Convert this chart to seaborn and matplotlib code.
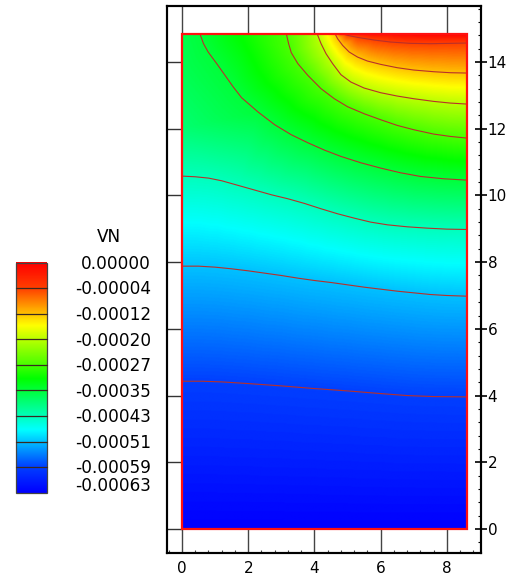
import numpy as np
import pandas as pd
import matplotlib
matplotlib.use("Agg")
import matplotlib.pyplot as plt
import matplotlib.tri as mtri
from matplotlib.colors import LinearSegmentedColormap
from matplotlib.patches import Rectangle
from matplotlib.ticker import MultipleLocator
import seaborn as sns

sns.set_theme(style="white")
plt.rcParams["font.family"] = ["DejaVu Sans"]
plt.rcParams["text.color"] = "black"
plt.rcParams["xtick.color"] = "black"
plt.rcParams["ytick.color"] = "black"

# ---------------- data ----------------
LEVELS = [0.0, -0.00004, -0.00012, -0.00020, -0.00027, -0.00035,
          -0.00043, -0.00051, -0.00059, -0.00063]
LEVEL_LABELS = ["0.00000", "-0.00004", "-0.00012", "-0.00020", "-0.00027",
                "-0.00035", "-0.00043", "-0.00051", "-0.00059", "-0.00063"]
LEGEND_TITLE = "VN"

DOMAIN_W = 8.6
DOMAIN_H = 14.85
X_TICKS = [0, 2, 4, 6, 8]
Y_TICKS = [0, 2, 4, 6, 8, 10, 12, 14]

# contour lines (level -> polyline)
L1_X = [4.83, 5.00, 5.30, 5.80, 6.30, 6.90, 7.50, 8.10, 8.60]
L1_Y = [14.85, 14.80, 14.74, 14.66, 14.60, 14.56, 14.55, 14.56, 14.57]
L2_X = [4.62, 4.70, 4.85, 5.05, 5.30, 5.60, 6.00, 6.50, 7.00, 7.60, 8.10, 8.60]
L2_Y = [14.85, 14.70, 14.50, 14.30, 14.15, 14.03, 13.93, 13.83, 13.76, 13.71, 13.68, 13.67]
L3_X = [4.08, 4.20, 4.35, 4.55, 4.80, 5.10, 5.50, 6.00, 6.50, 7.00, 7.60, 8.10, 8.60]
L3_Y = [14.85, 14.55, 14.25, 13.95, 13.62, 13.40, 13.22, 13.08, 12.98, 12.90, 12.82, 12.77, 12.74]
L4_X = [3.15, 3.22, 3.30, 3.50, 3.80, 4.20, 4.60, 5.00, 5.50, 6.00, 6.50, 7.00, 7.60, 8.10, 8.60]
L4_Y = [14.85, 14.55, 14.28, 13.95, 13.60, 13.20, 12.90, 12.66, 12.45, 12.27, 12.10, 11.97, 11.84, 11.77, 11.72]
L5_X = [0.54, 0.65, 0.79, 1.05, 1.30, 1.55, 1.80, 2.30, 2.80, 3.30, 3.80, 4.30, 4.80,
        5.40, 6.00, 6.60, 7.20, 7.90, 8.60]
L5_Y = [14.85, 14.55, 14.30, 13.95, 13.60, 13.25, 12.93, 12.50, 12.12, 11.82, 11.58, 11.36,
        11.17, 10.98, 10.82, 10.68, 10.57, 10.50, 10.46]
L6_X = [0.0, 0.4, 0.8, 1.2, 1.7, 2.2, 2.7, 3.2, 3.7, 4.2, 4.7, 5.2, 5.7, 6.2, 6.8, 7.4, 8.0, 8.6]
L6_Y = [10.58, 10.56, 10.52, 10.44, 10.30, 10.16, 10.02, 9.90, 9.76, 9.60, 9.45, 9.32,
        9.20, 9.12, 9.06, 9.02, 8.99, 8.98]
L7_X = [0.0, 0.5, 1.0, 1.5, 2.0, 2.5, 3.0, 3.5, 4.0, 4.5, 5.0, 5.5, 6.0, 6.5, 7.0, 7.5, 8.0, 8.6]
L7_Y = [7.88, 7.88, 7.85, 7.80, 7.74, 7.67, 7.60, 7.52, 7.45, 7.39, 7.32, 7.25, 7.19,
        7.13, 7.08, 7.03, 7.00, 6.98]
L8_X = [0.0, 0.6, 1.2, 2.0, 3.0, 4.0, 5.0, 6.0, 6.8, 7.6, 8.6]
L8_Y = [4.43, 4.43, 4.41, 4.36, 4.29, 4.21, 4.14, 4.06, 4.00, 3.97, 3.96]

# values on the domain boundary that are not on a contour line
EDGE_X = [0.0, 1.0, 2.0, 3.0, 4.0, 5.0, 6.0, 7.0, 8.0, 8.6,
          0.0, 0.0, 0.0,
          1.85, 3.6, 4.35, 4.72, 5.6, 6.6, 7.6, 8.6]
EDGE_Y = [0.0, 0.0, 0.0, 0.0, 0.0, 0.0, 0.0, 0.0, 0.0, 0.0,
          12.0, 13.5, 14.85,
          14.85, 14.85, 14.85, 14.85, 14.85, 14.85, 14.85, 14.85]
EDGE_V = [-0.00063, -0.00063, -0.00063, -0.00063, -0.00063, -0.00063, -0.00063,
          -0.00063, -0.00063, -0.00063,
          -0.000385, -0.000368, -0.00036,
          -0.00031, -0.00024, -0.00016, -0.00008, -0.00001, -0.000003, 0.0, 0.0]

LINES = [(LEVELS[1], L1_X, L1_Y), (LEVELS[2], L2_X, L2_Y), (LEVELS[3], L3_X, L3_Y),
         (LEVELS[4], L4_X, L4_Y), (LEVELS[5], L5_X, L5_Y), (LEVELS[6], L6_X, L6_Y),
         (LEVELS[7], L7_X, L7_Y), (LEVELS[8], L8_X, L8_Y)]

# ---------------- styling ----------------
cmap = LinearSegmentedColormap.from_list(
    "tecplot_rainbow", ["#0000ff", "#00ffff", "#00ff00", "#ffff00", "#ff0000"])
VMIN, VMAX = min(LEVELS), max(LEVELS)
LINE_COLOR = "#b8302a"

W, H = 515, 579
fig = plt.figure(figsize=(W / 100, H / 100), dpi=100)

# main axes (pixel box: x 167..481, y 6..553)
ax = fig.add_axes([167 / W, (H - 553) / H, (481 - 167) / W, (553 - 6) / H])
ax.set_axisbelow(True)

# field from the contour-line samples
px = np.concatenate([np.asarray(xs, float) for _, xs, _ in LINES] + [np.asarray(EDGE_X, float)])
py = np.concatenate([np.asarray(ys, float) for _, _, ys in LINES] + [np.asarray(EDGE_Y, float)])
pv = np.concatenate([np.full(len(xs), lv) for lv, xs, _ in LINES] + [np.asarray(EDGE_V, float)])
triang = mtri.Triangulation(px, py)
interp = mtri.LinearTriInterpolator(triang, pv)
gx = np.linspace(1e-6, DOMAIN_W - 1e-6, 430)
gy = np.linspace(1e-6, DOMAIN_H - 1e-6, 740)
GX, GY = np.meshgrid(gx, gy)
GZ = interp(GX, GY)
ax.imshow(GZ, extent=[0, DOMAIN_W, 0, DOMAIN_H], origin="lower", cmap=cmap,
          vmin=VMIN, vmax=VMAX, aspect="auto", interpolation="bilinear", zorder=3)

# contour lines through seaborn
frames = []
for lv, xs, ys in LINES:
    frames.append(pd.DataFrame({"x": xs, "y": ys, "level": lv, "order": range(len(xs))}))
df = pd.concat(frames, ignore_index=True)
sns.lineplot(data=df, x="x", y="y", units="level", estimator=None, sort=False,
             color=LINE_COLOR, linewidth=0.8, legend=False, ax=ax, zorder=4)

# domain border
ax.add_patch(Rectangle((0, 0), DOMAIN_W, DOMAIN_H, fill=False, edgecolor="#ff1010",
                       linewidth=1.6, zorder=5))

ax.set_xlim(-0.453, 9.03)
ax.set_ylim(-0.72, 15.68)
ax.set_xlabel("")
ax.set_ylabel("")
ax.set_xticks(X_TICKS)
ax.set_xticklabels([str(v) for v in X_TICKS])
ax.set_yticks(Y_TICKS)
ax.xaxis.set_minor_locator(MultipleLocator(0.4))
ax.tick_params(axis="x", which="major", bottom=True, top=True, direction="in",
               length=20, width=1.0, color="#444444", labelsize=11, pad=5.5)
ax.tick_params(axis="x", which="minor", bottom=True, top=False, direction="in",
               length=2.2, width=0.8, color="#444444")
ax.tick_params(axis="y", which="major", left=True, right=False, labelleft=False,
               direction="in", length=11, width=1.0, color="#333333")
ax.tick_params(axis="y", which="minor", left=False, right=False)
for s in ax.spines.values():
    s.set_color("black")
    s.set_linewidth(1.5)

ax2 = ax.twinx()
ax2.set_ylim(ax.get_ylim())
ax2.set_yticks(Y_TICKS)
ax2.set_yticklabels([str(v) for v in Y_TICKS])
ax2.yaxis.set_minor_locator(MultipleLocator(0.4))
ax2.tick_params(axis="y", which="major", right=True, direction="inout", length=8,
                width=1.2, color="black", labelsize=11, pad=0.8)
ax2.tick_params(axis="y", which="minor", right=True, direction="in", length=2.2,
                width=0.8, color="black")
for s in ax2.spines.values():
    s.set_color("black")
    s.set_linewidth(1.5)

# ---------------- legend (contour-level bar) ----------------
lg = fig.add_axes([0, 0, 1, 1], zorder=10)
lg.set_xlim(0, W)
lg.set_ylim(H, 0)
lg.axis("off")
bar_l, bar_r, bar_t, bar_b = 16, 47, 262.7, 492.7
nb = len(LEVELS) - 1
bh = (bar_b - bar_t) / nb
for k in range(nb):
    hi, lo = LEVELS[k], LEVELS[k + 1]
    grad = np.linspace(hi, lo, 64)[:, None]
    y0 = bar_t + k * bh
    lg.imshow(grad, extent=(bar_l, bar_r, y0 + bh, y0), origin="upper", cmap=cmap,
              vmin=VMIN, vmax=VMAX, aspect="auto", interpolation="bilinear")
    if k > 0:
        lg.plot([bar_l, bar_r], [y0, y0], color="#3a2a20", lw=0.9)
lg.add_patch(Rectangle((bar_l, bar_t), bar_r - bar_l, bar_b - bar_t, fill=False,
                       edgecolor="#444444", linewidth=0.9))
lg.set_xlim(0, W)
lg.set_ylim(H, 0)

FS = 12.2
half_digit = 0.5 * 0.729 * FS * 100 / 72
lg.text(109, 236 + half_digit, LEGEND_TITLE, ha="center", va="baseline", fontsize=FS)
for k, lab in enumerate(LEVEL_LABELS):
    yc = bar_t + k * bh if k < nb else 485.0
    lg.text(151, yc + half_digit, lab, ha="right", va="baseline", fontsize=FS)

fig.savefig("out.png", dpi=100)
